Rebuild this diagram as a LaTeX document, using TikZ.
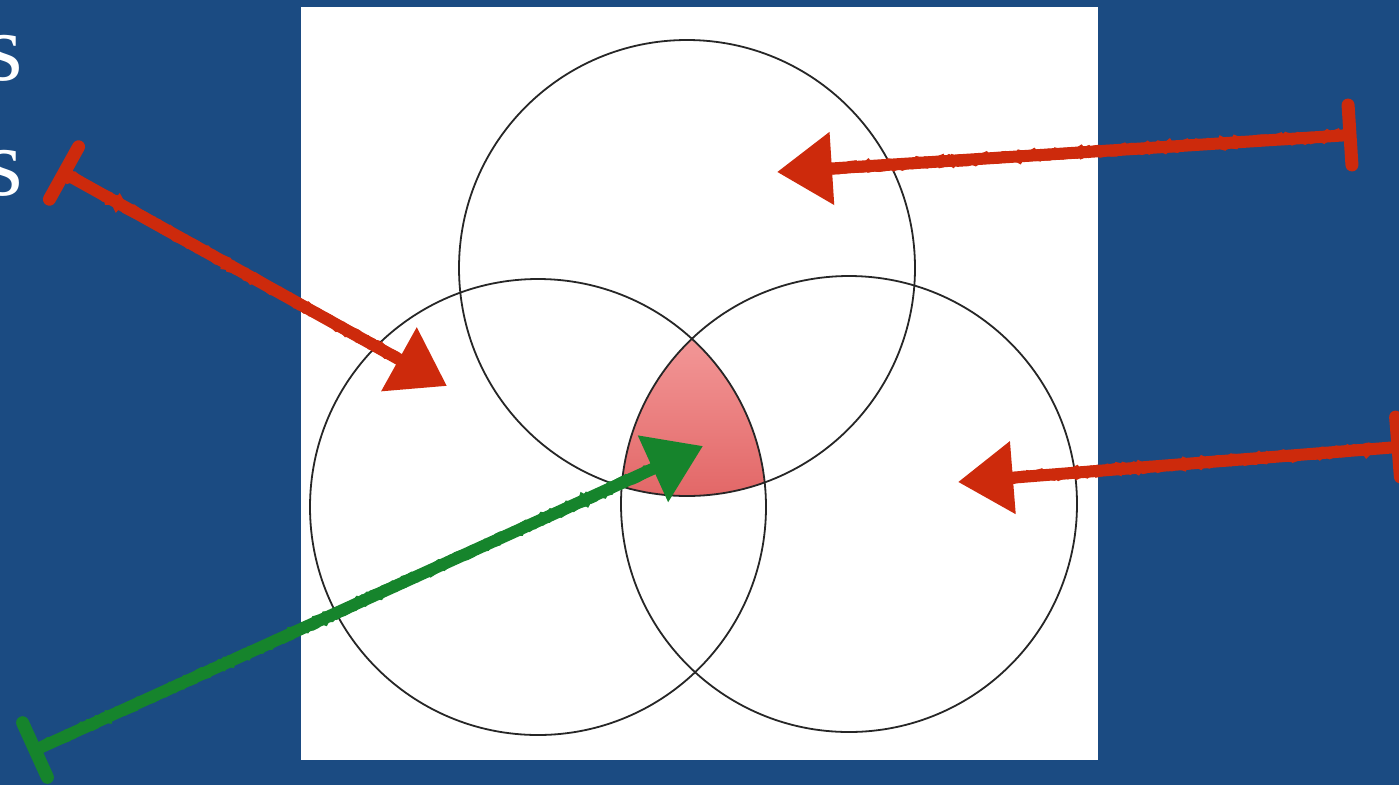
\documentclass[tikz,border=0pt]{standalone}
\usepackage{fontspec}
\setmainfont{Liberation Serif}
\usetikzlibrary{arrows.meta,calc,decorations.pathmorphing}
\definecolor{bgblue}{RGB}{27,75,130}
\definecolor{arrred}{RGB}{205,42,12}
\definecolor{arrgreen}{RGB}{22,132,44}
\definecolor{pinktop}{RGB}{243,152,152}
\definecolor{pinkbot}{RGB}{226,102,102}
\begin{document}
\begin{tikzpicture}[x=1pt,y=-1pt,
  vcircle/.style={draw=black!85, line width=1.8pt},
  shadowpre/.style={preaction={draw=black, opacity=0.28, transform canvas={shift={(1.5pt,-3pt)}}}},
  rough/.style={draw=#1, line width=10pt, decorate,
      decoration={random steps, segment length=3pt, amplitude=1.6pt}},
  brush/.style={draw=#1, line width=12pt, -{Triangle[length=55pt,width=70pt]}, shadowpre},
  barstroke/.style={draw=#1, line width=13pt, line cap=round, shadowpre},
  lettr/.style={text=white, font=\fontsize{96}{100}\selectfont, inner sep=0pt}]
\useasboundingbox (0,0) rectangle (1399,785);
\fill[bgblue] (0,0) rectangle (1399,785);
\fill[white] (301,7) rectangle (1098,760);
% letters
\node[lettr, anchor=base east] (l1) at (23,80) {s};
\node[lettr, anchor=base east] (l2) at (23,195) {s};
% circle centres
\coordinate (ct) at (687,268);
\coordinate (cl) at (538,507);
\coordinate (cr) at (849,504);
% triple intersection
\begin{scope}
  \clip (ct) circle[radius=228];
  \clip (cl) circle[radius=228];
  \clip (cr) circle[radius=228];
  \shade[top color=pinktop, bottom color=pinkbot] (600,335) rectangle (790,500);
\end{scope}
\draw[vcircle] (ct) circle[radius=228];
\draw[vcircle] (cl) circle[radius=228];
\draw[vcircle] (cr) circle[radius=228];
% arrows
\coordinate (s1) at (1350,135);
\coordinate (t1) at (777,172);
\coordinate (s2) at (64,173);
\coordinate (t2) at (447,386);
\coordinate (s3) at (1398,447);
\coordinate (t3) at (958,482);
\coordinate (s4) at (35,750);
\coordinate (t4) at (703,446);
\draw[brush=arrred] (s1) -- (t1);
\draw[rough=arrred] (s1) -- ($(t1)!45pt!(s1)$);
\draw[barstroke=arrred] ($(s1)!30pt!90:(t1)$) -- ($(s1)!30pt!-90:(t1)$);
\draw[brush=arrred] (s2) -- (t2);
\draw[rough=arrred] (s2) -- ($(t2)!45pt!(s2)$);
\draw[barstroke=arrred] ($(s2)!30pt!90:(t2)$) -- ($(s2)!30pt!-90:(t2)$);
\draw[brush=arrred] (s3) -- (t3);
\draw[rough=arrred] (s3) -- ($(t3)!45pt!(s3)$);
\draw[barstroke=arrred] ($(s3)!30pt!90:(t3)$) -- ($(s3)!30pt!-90:(t3)$);
\draw[brush=arrgreen] (s4) -- (t4);
\draw[rough=arrgreen] (s4) -- ($(t4)!45pt!(s4)$);
\draw[barstroke=arrgreen] ($(s4)!30pt!90:(t4)$) -- ($(s4)!30pt!-90:(t4)$);
\end{tikzpicture}
\end{document}
